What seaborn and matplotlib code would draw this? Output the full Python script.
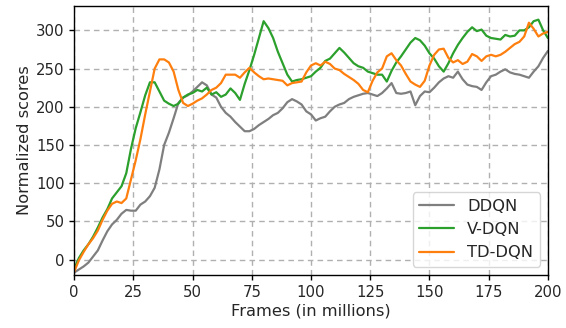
import numpy as np
import pandas as pd
import matplotlib
matplotlib.use("Agg")
import matplotlib.pyplot as plt
import seaborn as sns

frames = list(range(0, 201, 2))

ddqn = [-17, -13, -9, -4, 4, 12, 25, 37, 46, 52, 60, 65, 64, 64, 72, 76, 83, 94, 118, 150,
        166, 185, 205, 212, 215, 220, 226, 232, 228, 216, 212, 200, 192, 187, 180, 174, 168, 168, 171, 176,
        180, 184, 189, 192, 198, 206, 210, 207, 203, 194, 190, 182, 185, 187, 194, 200, 203, 205, 210, 213,
        215, 217, 218, 216, 214, 218, 224, 231, 218, 217, 218, 220, 202, 214, 220, 219, 225, 232, 237, 240,
        238, 246, 236, 229, 227, 226, 222, 232, 240, 242, 246, 249, 245, 243, 242, 240, 238, 246, 253, 264,
        273]

vdqn = [-12, 2, 12, 20, 30, 42, 55, 66, 80, 88, 96, 113, 145, 172, 193, 215, 232, 232, 220, 208,
        204, 201, 204, 212, 216, 218, 222, 220, 225, 216, 219, 213, 216, 224, 218, 209, 230, 248, 268, 290,
        312, 303, 290, 272, 257, 242, 233, 235, 236, 238, 240, 246, 251, 260, 263, 270, 277, 271, 264, 257,
        253, 251, 246, 244, 242, 242, 233, 247, 258, 266, 275, 284, 290, 287, 280, 270, 263, 253, 246, 257,
        270, 281, 290, 298, 304, 299, 301, 293, 290, 289, 288, 294, 292, 293, 300, 300, 304, 312, 314, 300,
        290]

tddqn = [-16, -1, 10, 20, 28, 38, 52, 64, 73, 76, 74, 80, 105, 130, 158, 190, 220, 250, 262, 262,
         258, 246, 222, 205, 201, 204, 208, 211, 216, 222, 225, 231, 242, 242, 242, 238, 245, 251, 245, 240,
         236, 237, 236, 235, 234, 228, 231, 232, 233, 245, 254, 257, 254, 259, 256, 250, 248, 243, 239, 235,
         230, 222, 219, 234, 245, 250, 266, 270, 261, 254, 243, 233, 229, 226, 234, 254, 268, 275, 276, 264,
         258, 261, 256, 259, 269, 266, 260, 266, 268, 266, 268, 272, 277, 282, 285, 292, 310, 302, 292, 296,
         298]

methods = ["DDQN", "V-DQN", "TD-DQN"]
colors = ["#7f7f7f", "#2ca02c", "#ff7f0e"]

df = pd.concat([
    pd.DataFrame({"Frames": frames, "score": ddqn, "method": "DDQN"}),
    pd.DataFrame({"Frames": frames, "score": vdqn, "method": "V-DQN"}),
    pd.DataFrame({"Frames": frames, "score": tddqn, "method": "TD-DQN"}),
])

sns.set_style("ticks")
plt.rcParams['font.family'] = ['DejaVu Sans']

fig, ax = plt.subplots(figsize=(5.66, 3.28), dpi=100)
fig.subplots_adjust(left=0.131, right=0.968, top=0.982, bottom=0.162)

sns.lineplot(data=df, x="Frames", y="score", hue="method", hue_order=methods,
             palette=colors, linewidth=1.6, ax=ax)

ax.set_xlim(0, 200)
ax.set_ylim(-20, 332)
ax.set_xticks([0, 25, 50, 75, 100, 125, 150, 175, 200])
ax.set_yticks([0, 50, 100, 150, 200, 250, 300])
ax.grid(True, linestyle=(0, (4, 3)), color="#b0b0b0", linewidth=1.0)
ax.set_xlabel("Frames (in millions)", fontsize=11.7, labelpad=3)
ax.set_ylabel("Normalized scores", fontsize=11.7, labelpad=3)
ax.tick_params(labelsize=10.7, direction="out", length=3.5, width=1, color="black")
for s in ax.spines.values():
    s.set_color("black")
    s.set_linewidth(1.0)

leg = ax.legend(loc="lower right", fontsize=11.7, frameon=True, fancybox=True,
                handlelength=2.15, borderpad=0.4)
leg.get_frame().set_edgecolor("#cccccc")
leg.get_frame().set_alpha(0.8)

fig.savefig("out.png", dpi=100)
